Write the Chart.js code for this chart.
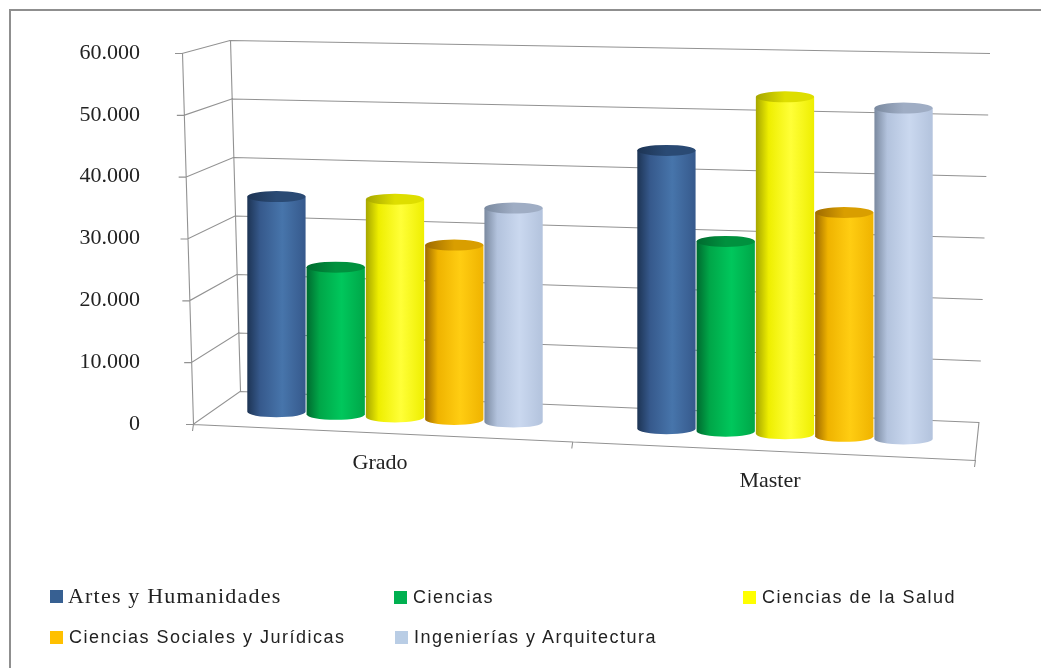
<!DOCTYPE html>
<html lang="es">
<head>
<meta charset="utf-8">
<title>Grado y Master por rama de conocimiento</title>
<script src="https://cdn.jsdelivr.net/npm/chart.js@4/dist/chart.umd.min.js"></script>
<style>
	html, body { margin: 0; padding: 0; background: #fff; }
	#wrap { position: relative; width: 1041px; height: 668px; overflow: hidden; }
	#chart { position: absolute; left: 0; top: 0; }
	.leg { position: absolute; height: 24px; display: flex; align-items: center; white-space: nowrap; color: #222; }
	.leg i { display: inline-block; width: 13px; height: 13px; margin-right: 5px; }
	.serif { font: 22px "Liberation Serif", "Times New Roman", serif; letter-spacing: 1.2px; }
	.sans { font: 18px "Liberation Sans", Arial, sans-serif; letter-spacing: 1.5px; }
	.sans i { margin-right: 6px; }
</style>
</head>
<body>
<div id="wrap">
	<canvas id="chart" width="1041" height="668"></canvas>
	<div id="legend"></div>
</div>
<script>
// data
const categories = ['Grado', 'Master'];
const seriesNames = ['Artes y Humanidades', 'Ciencias', 'Ciencias de la Salud', 'Ciencias Sociales y Jurídicas', 'Ingenierías y Arquitectura'];
const artesHumanidades = [34800, 45000];
const ciencias = [23800, 30700];
const cienciasSalud = [35200, 54500];
const cienciasSociales = [28200, 36200];
const ingenierias = [34600, 53500];
const yMax = 60000;
const yStep = 10000;

const seriesValues = [artesHumanidades, ciencias, cienciasSalud, cienciasSociales, ingenierias];

// cylinder shading: swatch, dark edge, light band, right edge, top cap
const palette = [
	{ base: '#376092', dark: '#1d3454', light: '#4775ab', right: '#36598c', cap: '#2a4a74' },
	{ base: '#00b050', dark: '#006a2f', light: '#00c75c', right: '#00a648', cap: '#00913e' },
	{ base: '#ffff00', dark: '#a6a600', light: '#ffff38', right: '#eeee00', cap: '#dede00' },
	{ base: '#ffc000', dark: '#9e6a00', light: '#ffcd12', right: '#efb300', cap: '#d99e00' },
	{ base: '#b9cde5', dark: '#7a899f', light: '#cad8ef', right: '#b3c3dd', cap: '#9fadc4' }
];

// legend placement (html, so fonts can differ per entry like the original)
const legendLayout = [
	{ x: 50, y: 584, cls: 'serif' },
	{ x: 394, y: 585, cls: 'sans' },
	{ x: 743, y: 585, cls: 'sans' },
	{ x: 50, y: 625, cls: 'sans' },
	{ x: 395, y: 625, cls: 'sans' }
];

const fmt = v => String(v).replace(/\B(?=(\d{3})+(?!\d))/g, '.');
const lerp = (a, b, t) => a + (b - a) * t;

// perspective box drawn around the front plane of the chart
const box = {
	front: { xBottom: 193, xTop: 182 },
	backLeft: { xBottom: 240, xTop: 230, yBottom: 391, yTop: 40 },
	backRight: { xBottom: 979, xTop: 990, yBottom: 422, yTop: 53 },
	frontRight: { x: 975, y: 460 },
	midTick: 0.485,
	skew: 0.0433, skewOrigin: 559
};

const frame3d = {
	id: 'frame3d',
	beforeDraw(chart) {
		const ctx = chart.ctx;
		ctx.save();
		ctx.fillStyle = '#fff';
		ctx.fillRect(0, 0, chart.width, chart.height);
		ctx.strokeStyle = '#8f8f8f';
		ctx.lineWidth = 2;
		ctx.beginPath();
		ctx.moveTo(10, chart.height);
		ctx.lineTo(10, 10);
		ctx.lineTo(chart.width, 10);
		ctx.stroke();
		ctx.restore();
	},
	beforeDatasetsDraw(chart) {
		const ctx = chart.ctx;
		const y = chart.scales.y;
		const yb = y.getPixelForValue(0);
		ctx.save();
		ctx.strokeStyle = '#929292';
		ctx.lineWidth = 1.1;
		const pt = v => {
			const py = y.getPixelForValue(v);
			const f = (yb - py) / (yb - y.getPixelForValue(y.max));
			return {
				fl: [lerp(box.front.xBottom, box.front.xTop, f), py],
				bl: [lerp(box.backLeft.xBottom, box.backLeft.xTop, f), lerp(box.backLeft.yBottom, box.backLeft.yTop, f)],
				br: [lerp(box.backRight.xBottom, box.backRight.xTop, f), lerp(box.backRight.yBottom, box.backRight.yTop, f)]
			};
		};
		ctx.beginPath();
		y.ticks.forEach(t => {
			const p = pt(t.value);
			ctx.moveTo(p.fl[0] - 7, p.fl[1] + 0.5);
			ctx.lineTo(p.fl[0], p.fl[1] + 0.5);
			ctx.lineTo(p.bl[0], p.bl[1] + 0.5);
			ctx.lineTo(p.br[0], p.br[1] + 0.5);
		});
		const p0 = pt(0), pm = pt(y.max);
		// front and back vertical edges
		ctx.moveTo(p0.fl[0] + 0.5, p0.fl[1]);
		ctx.lineTo(pm.fl[0] + 0.5, pm.fl[1]);
		ctx.moveTo(p0.bl[0] + 0.5, p0.bl[1]);
		ctx.lineTo(pm.bl[0] + 0.5, pm.bl[1]);
		// floor
		const fr = box.frontRight;
		ctx.moveTo(p0.fl[0], p0.fl[1] + 0.5);
		ctx.lineTo(fr.x, fr.y + 0.5);
		ctx.lineTo(p0.br[0], p0.br[1]);
		// category ticks on front floor edge (start, between, end)
		[0, box.midTick, 1].forEach(f => {
			const tx = lerp(p0.fl[0], fr.x, f);
			const ty = lerp(p0.fl[1], fr.y, f);
			ctx.moveTo(tx + 0.5, ty);
			ctx.lineTo(tx - 1 + 0.5, ty + 7);
		});
		ctx.stroke();
		ctx.restore();
	},
	afterDatasetsDraw(chart) {
		const ctx = chart.ctx;
		const x = chart.scales.x;
		const yb = chart.scales.y.getPixelForValue(0);
		ctx.save();
		categories.forEach((c, i) => {
			chart.data.datasets.forEach((ds, d) => {
				const el = chart.getDatasetMeta(d).data[i];
				const p = el.getProps(['x', 'y', 'base', 'width'], true);
				const dy = box.skew * (p.x - box.skewOrigin);
				drawCylinder(ctx, p.x, p.y + dy, p.base + dy, p.width, palette[d]);
			});
			// category label along the slanted front edge
			const cx = x.getPixelForTick(i) - 15;
			const t = (cx - box.front.xBottom) / (box.frontRight.x - box.front.xBottom);
			const ey = lerp(yb, box.frontRight.y, t);
			ctx.fillStyle = '#222';
			ctx.font = '22px "Liberation Serif", "Times New Roman", serif';
			ctx.textAlign = 'center';
			ctx.textBaseline = 'middle';
			ctx.fillText(c, cx, ey + 31);
		});
		ctx.restore();
	}
};

function drawCylinder(ctx, x, top, base, w, c) {
	const rx = w / 2 - 0.5;
	const ry = 5.5;
	const g = ctx.createLinearGradient(x - rx, 0, x + rx, 0);
	g.addColorStop(0, c.dark);
	g.addColorStop(0.22, c.right);
	g.addColorStop(0.6, c.light);
	g.addColorStop(1, c.right);
	ctx.beginPath();
	ctx.moveTo(x - rx, top);
	ctx.lineTo(x - rx, base);
	ctx.ellipse(x, base, rx, ry, 0, Math.PI, 0, true);
	ctx.lineTo(x + rx, top);
	ctx.closePath();
	ctx.fillStyle = g;
	ctx.fill();
	const gc = ctx.createLinearGradient(x - rx, 0, x + rx, 0);
	gc.addColorStop(0, c.dark);
	gc.addColorStop(0.5, c.cap);
	gc.addColorStop(1, c.cap);
	ctx.beginPath();
	ctx.ellipse(x, top, rx, ry, 0, 0, Math.PI * 2);
	ctx.fillStyle = gc;
	ctx.fill();
}

new Chart(document.getElementById('chart'), {
	type: 'bar',
	data: {
		labels: categories,
		datasets: seriesNames.map((name, i) => ({
			label: name,
			data: seriesValues[i],
			backgroundColor: 'rgba(0,0,0,0)',
			borderWidth: 0,
			categoryPercentage: 0.76,
			barPercentage: 1
		}))
	},
	options: {
		responsive: false,
		animation: false,
		devicePixelRatio: 1,
		layout: { padding: { left: 10, top: 53, right: 61, bottom: 244 } },
		plugins: { legend: { display: false }, tooltip: { enabled: false } },
		scales: {
			x: { display: false },
			y: {
				min: 0,
				max: yMax,
				afterFit: s => {
					s.width = 190;
					// the wide label gap should not push the plot down
					s.paddingTop = 0;
					s.paddingBottom = 0;
				},
				grid: { display: false, drawTicks: false },
				border: { display: false },
				ticks: {
					stepSize: yStep,
					padding: 60,
					color: '#222',
					font: { family: '"Liberation Serif", "Times New Roman", serif', size: 22 },
					callback: v => fmt(v)
				}
			}
		}
	},
	plugins: [frame3d]
});

// legend
const legend = document.getElementById('legend');
seriesNames.forEach((name, i) => {
	const l = legendLayout[i];
	const div = document.createElement('div');
	div.className = 'leg ' + l.cls;
	div.style.left = l.x + 'px';
	div.style.top = l.y + 'px';
	const sw = document.createElement('i');
	sw.style.background = palette[i].base;
	div.appendChild(sw);
	div.appendChild(document.createTextNode(name));
	legend.appendChild(div);
});
</script>
</body>
</html>
